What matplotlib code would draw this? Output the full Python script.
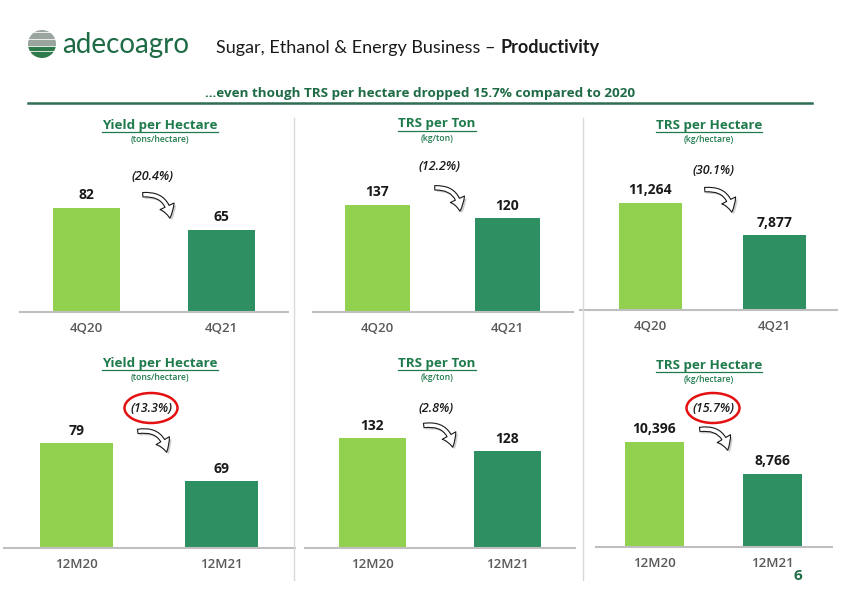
import matplotlib.pyplot as plt
import matplotlib.patches as mpatches
from matplotlib.lines import Line2D

plt.rcParams['font.family'] = ['Open Sans', 'DejaVu Sans']

# ---- data ----
titles = ["Yield per Hectare", "TRS per Ton", "TRS per Hectare"] * 2
units = ["(tons/hectare)", "(kg/ton)", "(kg/hectare)"] * 2
periods_q = ["4Q20", "4Q21"]
periods_y = ["12M20", "12M21"]
yield_q = [82, 65]
trs_ton_q = [137, 120]
trs_ha_q = [11264, 7877]
yield_y = [79, 69]
trs_ton_y = [132, 128]
trs_ha_y = [10396, 8766]
changes = ["(20.4%)", "(12.2%)", "(30.1%)", "(13.3%)", "(2.8%)", "(15.7%)"]
circled = [False, False, False, True, False, True]

series = [yield_q, trs_ton_q, trs_ha_q, yield_y, trs_ton_y, trs_ha_y]
cats = [periods_q] * 3 + [periods_y] * 3

W, H = 842, 595
LIGHT = '#92d050'
DARK = '#2e8f62'
GREEN_TXT = '#1f7a4c'
HEAD_GREEN = '#1e6b45'


def fx(x):
    return x / W


def fy(y):
    return 1 - y / H


# layout in pixels: axis left, right, baseline, first bar centre, spacing, bar width,
# px per unit, axis start value
layout = [
    (20, 288, 312, 86.5, 135, 67, 104 / 82, 0),
    (313, 573, 312, 377.5, 130, 65, 107 / 137, 0),
    (580, 837, 310, 650.5, 124, 63, 107 / 11264, 0),
    (4, 295, 548, 76.5, 145, 73, 3.8, 51.4),
    (305, 575, 548, 372.5, 135, 67, 3.25, 98.2),
    (596, 832, 547, 654.5, 118, 59, 105 / 5349, 5047),
]
title_pos = [(160, 125), (437, 124), (709, 125), (160, 363), (437, 363), (709, 365)]
pct_pos = [(153, 176), (440, 167), (714, 170), (152, 409), (436, 409), (714, 409)]
arrows = [((140, 195), (170, 221)), ((432, 188), (460, 214)), ((702, 190), (732, 215)),
          ((135, 432), (167, 455)), ((421, 426), (453, 450)), ((697, 430), (728, 453))]

fig = plt.figure(figsize=(W / 100, H / 100), dpi=100)
fig.patch.set_facecolor('white')
renderer = fig.canvas.get_renderer()

# ---- header ----
lg = fig.add_axes([fx(28), fy(58), 28 / W, 28 / H])
lg.set_xlim(-1, 1)
lg.set_ylim(-1, 1)
lg.axis('off')
circ = mpatches.Circle((0, 0), 1, transform=lg.transData, facecolor='none', edgecolor='none')
lg.add_patch(circ)
for k in range(12):
    yy = -0.95 + k * 0.17
    col = '#2e7a4a' if yy < -0.1 else '#9aa5a0'
    ln = Line2D([-1, 1], [yy, yy], color=col, lw=1.6)
    lg.add_line(ln)
    ln.set_clip_path(circ)
fig.text(fx(62), fy(45), "adecoagro", fontsize=20, color=HEAD_GREEN, va='center', ha='left',
         family=['Lato', 'DejaVu Sans'])
t1 = fig.text(fx(216), fy(48), "Sugar, Ethanol & Energy Business \u2013", fontsize=13, color='#1a1a1a',
              va='center', ha='left', family=['Lato', 'DejaVu Sans'])
bb1 = t1.get_window_extent(renderer)
fig.text(bb1.x1 / W + fx(5), fy(48), "Productivity", fontsize=13, color='#1a1a1a', weight='bold',
         va='center', ha='left', family=['Lato', 'DejaVu Sans'])
fig.text(fx(420), fy(93), "\u2026even though TRS per hectare dropped 15.7% compared to 2020",
         fontsize=9.7, weight='bold', color=HEAD_GREEN, ha='center', va='center')
fig.add_artist(Line2D([fx(28), fx(812)], [fy(103), fy(103)], color='#2e6e52', lw=1.8))

# dividers
for xd in (294, 583):
    fig.add_artist(Line2D([fx(xd), fx(xd)], [fy(118), fy(580)], color='#d9d9d9', lw=1))

# ---- panels ----
title_texts = []
for i, vals in enumerate(series):
    L, R, base, c0, d, w, a, v0 = layout[i]
    hpx = 140
    ax = fig.add_axes([fx(L), fy(base), (R - L) / W, hpx / H])
    ax.bar([0, 1], vals, width=w / d, color=[LIGHT, DARK], bottom=0)
    ax.set_xlim((L - c0) / d, (R - c0) / d)
    ax.set_ylim(v0, v0 + hpx / a)
    for s in ('top', 'left', 'right'):
        ax.spines[s].set_visible(False)
    ax.spines['bottom'].set_color('#bfbfbf')
    ax.spines['bottom'].set_linewidth(1.5)
    ax.set_yticks([])
    ax.set_xticks([0, 1])
    ax.set_xticklabels(cats[i], fontsize=9.5, color='#595959', weight='semibold')
    ax.tick_params(axis='x', length=0, pad=7)
    ax.patch.set_alpha(0)
    for j, v in enumerate(vals):
        ax.annotate(f"{v:,}", (j, v), xytext=(0, 4), textcoords='offset points',
                    ha='center', va='bottom', fontsize=10, weight='bold', color='#1a1a1a')

    tx, ty = title_pos[i]
    t = fig.text(fx(tx), fy(ty), titles[i], fontsize=9.6, weight='bold', color=GREEN_TXT,
                 ha='center', va='center')
    title_texts.append((t, ty))
    fig.text(fx(tx), fy(ty + 14), units[i], fontsize=6.2, weight='semibold', color=GREEN_TXT,
             ha='center', va='center')

    px, py = pct_pos[i]
    fig.text(fx(px), fy(py), changes[i], fontsize=9, style='italic', weight='semibold',
             color='#1a1a1a', ha='center', va='center')
    if circled[i]:
        fig.add_artist(mpatches.Ellipse((fx(px - 1), fy(py - 1)), 53 / W, 30 / H,
                                        transform=fig.transFigure, facecolor='none',
                                        edgecolor='#e3100f', lw=1.8))

    (t0x, t0y), (t1x, t1y) = arrows[i]
    for off, fc, ec, al in [((2, 2), '#b0b0b0', 'none', 0.6), ((0, 0), 'white', '#1a1a1a', 1)]:
        arr = mpatches.FancyArrowPatch((fx(t0x + off[0]), fy(t0y + off[1])),
                                       (fx(t1x + off[0]), fy(t1y + off[1])),
                                       transform=fig.transFigure,
                                       connectionstyle="arc3,rad=-0.55",
                                       arrowstyle="simple,head_length=0.55,head_width=0.7,tail_width=0.2",
                                       mutation_scale=16, facecolor=fc, edgecolor=ec, lw=0.8, alpha=al)
        fig.add_artist(arr)

# underline the panel titles
for t, ty in title_texts:
    bb = t.get_window_extent(renderer)
    yl = fy(ty + 6.5)
    fig.add_artist(Line2D([bb.x0 / W, bb.x1 / W], [yl, yl], color=GREEN_TXT, lw=0.9))

fig.text(fx(798), fy(576), "6", fontsize=11, weight='bold', color=HEAD_GREEN, ha='center', va='center')

fig.savefig('out.png', dpi=100)
